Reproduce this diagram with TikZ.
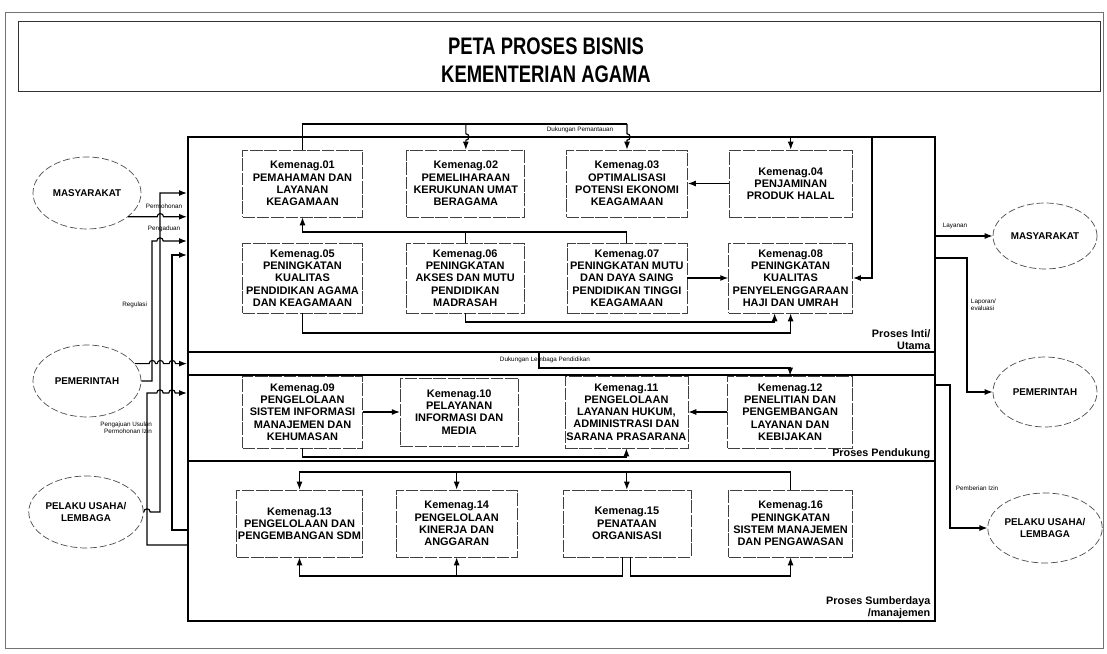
\documentclass[tikz,border=0pt]{standalone}
\usepackage{fontspec}
\setmainfont{Liberation Sans}
\usepackage{graphicx}
\usetikzlibrary{positioning,arrows.meta,shapes.geometric}

\tikzset{
  kbox/.style={draw=black!75,line width=0.5pt,dash pattern=on 9pt off 1.2pt,align=center,
    font=\fontsize{7.8}{8.7}\selectfont\bfseries,minimum width=30mm,minimum height=16.75mm,inner sep=1pt},
  actor/.style={ellipse,draw=black!70,line width=0.5pt,dash pattern=on 5pt off 2pt,align=center,
    font=\fontsize{7}{8}\selectfont\bfseries,minimum width=27mm,minimum height=18mm,inner sep=0pt},
  lanebox/.style={draw,line width=1.4pt,minimum width=186.75mm,inner sep=0pt},
  flow/.style={line width=0.8pt,->},
  link/.style={line width=0.8pt},
  tag/.style={font=\fontsize{4.5}{5}\selectfont,inner sep=0.5pt},
  lane/.style={font=\fontsize{7.7}{8.5}\selectfont\bfseries,align=right,inner sep=1pt},
  hoph/.style={insert path={arc[start angle=180,end angle=0,radius=0.8mm]}},
  hopv/.style={insert path={arc[start angle=90,end angle=-90,radius=0.8mm]}}
}

\begin{document}
\begin{tikzpicture}[x=0.25mm,y=-0.25mm,>={Latex[length=2mm,width=1.5mm]},node distance=10mm and 10.5mm]
\useasboundingbox (0,0) rectangle (1107,654);
\draw[black!55,line width=0.4pt] (5,12) rectangle (1103,648);

% judul
\node[draw=black!80,line width=0.6pt,minimum width=270.5mm,minimum height=17.5mm,inner sep=0pt] (hdr) at (559,56) {};
\node[font=\fontsize{17}{20}\selectfont\bfseries,align=center] (ttl) at (546,60)
  {\scalebox{0.77}[1]{PETA PROSES BISNIS}\\\scalebox{0.77}[1]{KEMENTERIAN AGAMA}};

% bingkai proses
\node[lanebox,minimum height=53.75mm] (inti) at (561.5,244.5) {};
\node[lanebox,minimum height=5.75mm] (band) at (561.5,363.5) {};
\node[lanebox,minimum height=21.5mm] (pdk) at (561.5,418) {};
\node[lanebox,minimum height=40mm] (sdm) at (561.5,541) {};
\node[lane,anchor=south east] (lin) at (932,351) {Proses Inti/\\Utama};
\node[lane,anchor=south east] (lpd) at (932,460) {Proses Pendukung};
\node[lane,anchor=south east] (lsd) at (932,620) {Proses Sumberdaya\\/manajemen};

% proses inti
\node[kbox] (k01) at (302.5,183.5) {Kemenag.01\\PEMAHAMAN DAN\\LAYANAN\\KEAGAMAAN};
\node[kbox,right=10.9mm of k01,minimum width=29.5mm] (k02) {Kemenag.02\\PEMELIHARAAN\\KERUKUNAN UMAT\\BERAGAMA};
\node[kbox,right=10.25mm of k02,minimum width=30.25mm] (k03) {Kemenag.03\\OPTIMALISASI\\POTENSI EKONOMI\\KEAGAMAAN};
\node[kbox,right=10.25mm of k03,minimum width=30.75mm] (k04) {Kemenag.04\\PENJAMINAN\\PRODUK HALAL};
\node[kbox,minimum height=17.5mm] (k05) at (302.5,278) {Kemenag.05\\PENINGKATAN\\KUALITAS\\PENDIDIKAN AGAMA\\DAN KEAGAMAAN};
\node[kbox,right=10.75mm of k05,minimum height=17.5mm,minimum width=29.5mm] (k06) {Kemenag.06\\PENINGKATAN\\AKSES DAN MUTU\\PENDIDIKAN\\MADRASAH};
\node[kbox,right=10.5mm of k06,minimum height=17.5mm] (k07) {Kemenag.07\\PENINGKATAN MUTU\\DAN DAYA SAING\\PENDIDIKAN TINGGI\\KEAGAMAAN};
\node[kbox,right=10.25mm of k07,minimum height=17.5mm,minimum width=31mm] (k08) {Kemenag.08\\PENINGKATAN\\KUALITAS\\PENYELENGGARAAN\\HAJI DAN UMRAH};

% proses pendukung
\node[kbox,minimum height=18mm] (k09) at (302.5,412) {Kemenag.09\\PENGELOLAAN\\SISTEM INFORMASI\\MANAJEMEN DAN\\KEHUMASAN};
\node[kbox,right=9.25mm of k09,minimum height=17mm,minimum width=29.5mm] (k10) {Kemenag.10\\PELAYANAN\\INFORMASI DAN\\MEDIA};
\node[kbox,right=11.5mm of k10,minimum height=18mm,minimum width=30.75mm] (k11) {Kemenag.11\\PENGELOLAAN\\LAYANAN HUKUM,\\ADMINISTRASI DAN\\SARANA PRASARANA};
\node[kbox,right=9.75mm of k11,minimum height=18mm,minimum width=31.25mm] (k12) {Kemenag.12\\PENELITIAN DAN\\PENGEMBANGAN\\LAYANAN DAN\\KEBIJAKAN};

% proses sumberdaya
\node[kbox,minimum width=31.25mm] (k13) at (299.5,523.5) {Kemenag.13\\PENGELOLAAN DAN\\PENGEMBANGAN SDM};
\node[kbox,right=8.25mm of k13,minimum width=30.25mm] (k14) {Kemenag.14\\PENGELOLAAN\\KINERJA DAN\\ANGGARAN};
\node[kbox,right=11.25mm of k14,minimum width=32mm] (k15) {Kemenag.15\\PENATAAN\\ORGANISASI};
\node[kbox,right=9.25mm of k15,minimum width=31mm] (k16) {Kemenag.16\\PENINGKATAN\\SISTEM MANAJEMEN\\DAN PENGAWASAN};

% pihak luar
\node[actor] (mas1) at (87,193) {MASYARAKAT};
\node[actor] (pem1) at (87,381) {PEMERINTAH};
\node[actor] (pel1) at (86,512) {PELAKU USAHA/\\LEMBAGA};
\node[actor,minimum width=26mm,minimum height=16.5mm] (mas2) at (1045,236) {MASYARAKAT};
\node[actor,minimum width=26mm,minimum height=17.5mm] (pem2) at (1045,392) {PEMERINTAH};
\node[actor,minimum width=26mm,minimum height=17.5mm] (pel2) at (1045,528) {PELAKU USAHA/\\LEMBAGA};

% dukungan pemantauan
\draw[link] (k01.north) -- (k01.north |- 0,124) -- (k03.north |- 0,124);
\draw[flow] (k02.north |- 0,124) -- (k02.north |- 0,133.8) [hopv] -- (k02.north);
\draw[flow] (k03.north |- 0,124) -- (k03.north |- 0,133.8) [hopv] -- (k03.north);
\node[tag] (dpm) at (580,130) {Dukungan Pemantauan};
\draw[flow] (k04.north |- inti.north) -- (k04.north);
\draw[flow] (inti.north -| 872,0) |- (k08.east);
\draw[flow] (k04.west) -- (k03.east);

% baris kedua
\draw[link] (k06.north) -- (k06.north |- 0,232);
\draw[flow] (k07.north) -- (k07.north |- 0,232) -- (k01.south |- 0,232) -- (k01.south);
\draw[flow] (k07.east) -- (k08.west);
\draw[flow] (k06.south) -- (k06.south |- 0,322) -| ([xshift=-4mm]k08.south);
\draw[flow] (k05.south) -- (k05.south |- 0,333) -| (k08.south);

% dukungan lembaga pendidikan
\draw[flow] (inti.south -| 539,0) -- (539,368) -| (k12.north);
\node[tag] (dlp) at (545,359.5) {Dukungan Lembaga Pendidikan};

% pendukung
\draw[flow] (k09.east) -- (k10.west);
\draw[flow] (k12.west) -- (k11.east);
\draw[flow] (k09.south) -- (k09.south |- 0,457) -| (k11.south);

% sumberdaya
\draw[flow] (k16.north) |- (k13.north |- 0,472) -- (k13.north);
\draw[flow] (k14.north |- 0,472) -- (k14.north);
\draw[flow] (k15.north |- 0,472) -- (k15.north);
\draw[flow] ([xshift=-1mm]k15.south) -- ([xshift=-1mm]k15.south |- 0,576) -| (k13.south);
\draw[flow] (k14.south |- 0,576) -- (k14.south);
\draw[flow] ([xshift=1mm]k15.south) -- ([xshift=1mm]k15.south |- 0,576) -| (k16.south);

% masukan kiri
\draw[flow] (pel1.east) -- (143.8,512) [hoph] -- (160,512) -- (160,193) -- (inti.west |- 0,193);
\draw[flow] (mas1.-30) -- ++(29,0) [hoph] -- (inti.west |- mas1.-30);
\draw[flow] (pem1.east) -- (152,381) -- (152,241) -- (156.8,241) [hoph] -- (inti.west |- 0,241);
\draw[flow] (sdm.west |- 0,530) -- (172,530) -- (172,255) -- (inti.west |- 0,255);
\draw[flow] (pem1.20) -- ++(14.4,0) [hoph] -- ++(1.6,0) [hoph] -- ++(5.6,0) [hoph] -- (band.west |- pem1.20);
\draw[flow] (sdm.west |- 0,545) -- (147,545) -- (147,393) -- (156.8,393) [hoph] -- (168.8,393) [hoph] -- (pdk.west |- 0,393);
\node[tag] (tpm) at (164,206) {Permohonan};
\node[tag] (tpd) at (164,229) {Pengaduan};
\node[tag,anchor=east] (trg) at (148,305) {Regulasi};
\node[tag,anchor=east,align=right] (tpu) at (153,428) {Pengajuan Usulan\\Permohonan Izin};

% keluaran kanan
\draw[flow] (inti.east |- mas2.west) -- (mas2.west);
\node[tag] (tly) at (955,226) {Layanan};
\draw[flow] (inti.east |- 0,258) -- (967,258) |- (pem2.west);
\node[tag,anchor=west,align=left] (tlp) at (970,305) {Laporan/\\evaluasi};
\draw[flow] (pdk.east |- 0,385) -- (950,385) |- (pel2.west);
\node[tag,anchor=west] (tpi) at (955,488) {Pemberian Izin};
\end{tikzpicture}
\end{document}
